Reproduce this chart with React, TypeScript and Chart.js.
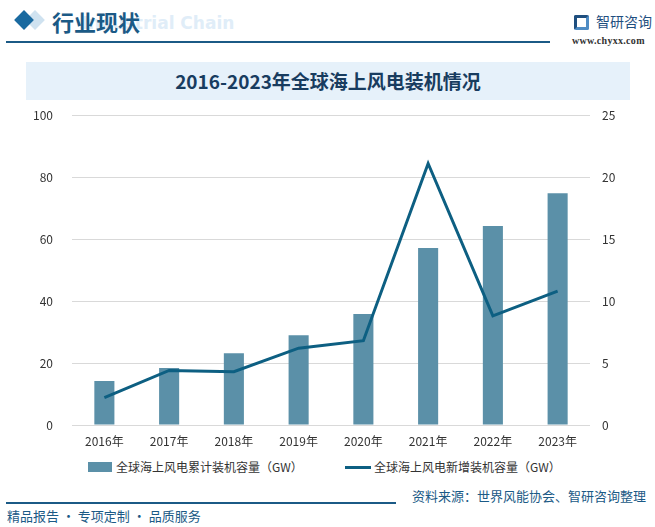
import React, { useEffect, useRef } from "react";
import { Chart, registerables } from "chart.js";

Chart.register(...registerables);

const categories = ["2016年", "2017年", "2018年", "2019年", "2020年", "2021年", "2022年", "2023年"];
const cumulativeGW = [14.2, 18.4, 23.2, 29.0, 35.8, 57.1, 64.2, 74.8];
const newGW = [2.2, 4.4, 4.3, 6.2, 6.8, 21.1, 8.8, 10.8];
const leftTicks = [0, 20, 40, 60, 80, 100];
const rightTicks = [0, 5, 10, 15, 20, 25];
const seriesNames = ["全球海上风电累计装机容量（GW）", "全球海上风电新增装机容量（GW）"];

const BAR = "#5b90a8";
const LINE = "#0d5f82";
const DARK = "#1b5a86";
const FONT = "'Noto Sans CJK SC', 'Noto Sans', sans-serif";

export default function App() {
  const ref = useRef<HTMLCanvasElement | null>(null);

  useEffect(() => {
    document.body.style.margin = "0";
    const ctx = ref.current!.getContext("2d")!;
    const chart = new Chart(ctx, {
      data: {
        labels: categories,
        datasets: [
          {
            type: "line",
            label: seriesNames[1],
            data: newGW,
            yAxisID: "y2",
            borderColor: LINE,
            borderWidth: 3,
            pointRadius: 0,
            tension: 0,
            order: 0,
          },
          {
            type: "bar",
            label: seriesNames[0],
            data: cumulativeGW,
            yAxisID: "y",
            backgroundColor: BAR,
            barPercentage: 0.31,
            categoryPercentage: 1,
            order: 1,
          },
        ],
      },
      options: {
        animation: false,
        responsive: false,
        maintainAspectRatio: false,
        layout: { padding: { top: 10, left: 0, right: 0, bottom: 0 } },
        plugins: { legend: { display: false }, tooltip: { enabled: false } },
        scales: {
          x: {
            grid: { display: false, drawTicks: false },
            border: { display: false },
            ticks: { color: "#333", font: { family: FONT, size: 12 }, padding: 9 },
            afterFit: (s: any) => { s.height = 30; },
          },
          y: {
            position: "left",
            min: 0,
            max: 100,
            afterBuildTicks: (s: any) => { s.ticks = leftTicks.map((v) => ({ value: v })); },
            grid: { color: "#d9d9d9", drawTicks: false, lineWidth: 1 },
            border: { display: false },
            ticks: { color: "#333", font: { family: FONT, size: 12 }, padding: 19 },
            afterFit: (s: any) => { s.width = 72; },
          },
          y2: {
            position: "right",
            min: 0,
            max: 25,
            afterBuildTicks: (s: any) => { s.ticks = rightTicks.map((v) => ({ value: v })); },
            grid: { display: false, drawTicks: false },
            border: { display: false },
            ticks: { color: "#333", font: { family: FONT, size: 12 }, padding: 12 },
            afterFit: (s: any) => { s.width = 65; },
          },
        },
      },
    });
    return () => chart.destroy();
  }, []);

  const abs = (o: React.CSSProperties): React.CSSProperties => ({ position: "absolute", ...o });

  return (
    <div style={{ position: "relative", width: 655, height: 527, background: "#fff", overflow: "hidden", fontFamily: FONT }}>
      {/* header */}
      <div style={abs({ left: 28, top: 13, width: 14, height: 14, background: "#cfe2f0", transform: "rotate(45deg)" })} />
      <div style={abs({ left: 17, top: 13, width: 14, height: 14, background: "#1a6aa0", transform: "rotate(45deg)" })} />
      <div style={abs({ left: 82, top: 13, fontSize: 17, fontWeight: 700, color: "#e0edf8", fontFamily: "'DejaVu Sans', sans-serif", whiteSpace: "nowrap" })}>Industrial Chain</div>
      <div style={abs({ left: 52, top: 5, fontSize: 22, fontWeight: 700, color: DARK, whiteSpace: "nowrap" })}>行业现状</div>
      <div style={abs({ left: 6, top: 41, width: 544, height: 2, background: DARK })} />
      <div style={abs({ left: 574, top: 15, width: 15, height: 15, border: "3px solid #1f4f7f", borderRadius: 2, boxSizing: "border-box", borderRightColor: "#4f8cc4", borderBottomColor: "#4f8cc4" })} />
      <div style={abs({ left: 596, top: 11, fontSize: 14, color: "#1f4f7f", whiteSpace: "nowrap" })}>智研咨询</div>
      <div style={abs({ left: 572, top: 35, fontSize: 10, color: "#333", fontFamily: "'Liberation Serif', serif", fontWeight: 700, letterSpacing: 0.3 })}>www.chyxx.com</div>

      {/* title band */}
      <div style={abs({ left: 26, top: 62, width: 604, height: 38, background: "#e6f1fa" })} />
      <div style={abs({ left: 26, top: 62, width: 604, height: 38, lineHeight: "38px", textAlign: "center", fontSize: 19, fontWeight: 700, color: "#183c5f", whiteSpace: "nowrap" })}>
        2016-2023年全球海上风电装机情况
      </div>

      {/* chart */}
      <canvas ref={ref} width={655} height={366} style={abs({ left: 0, top: 89, width: 655, height: 366 })} />

      {/* legend */}
      <div style={abs({ left: 88, top: 462, width: 24, height: 10, background: BAR })} />
      <div style={abs({ left: 116, top: 458, fontSize: 12, color: "#333", whiteSpace: "nowrap" })}>{seriesNames[0]}</div>
      <div style={abs({ left: 345, top: 466, width: 26, height: 3, background: LINE })} />
      <div style={abs({ left: 374, top: 458, fontSize: 12, color: "#333", whiteSpace: "nowrap" })}>{seriesNames[1]}</div>

      {/* footer */}
      <div style={abs({ left: 6, top: 502, width: 390, height: 2, background: DARK })} />
      <div style={abs({ left: 412, top: 486, fontSize: 13, color: DARK, whiteSpace: "nowrap" })}>资料来源：世界风能协会、智研咨询整理</div>
      <div style={abs({ left: 7, top: 506, fontSize: 13, color: DARK, whiteSpace: "nowrap" })}>精品报告 · 专项定制 · 品质服务</div>
    </div>
  );
}
